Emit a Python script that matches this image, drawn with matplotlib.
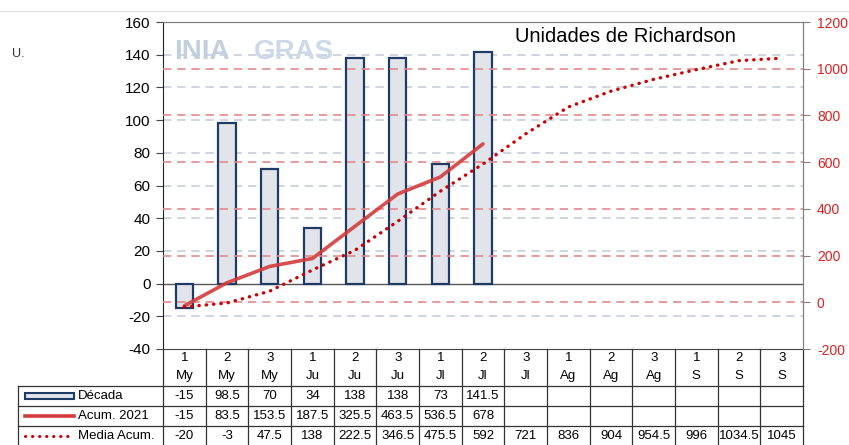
import numpy as np
import matplotlib.pyplot as plt
from matplotlib.lines import Line2D
from matplotlib.patches import Rectangle

plt.rcParams['font.family'] = ['Liberation Sans', 'DejaVu Sans']
plt.rcParams['axes.unicode_minus'] = False

# ----- data -----
dec_num = ['1', '2', '3', '1', '2', '3', '1', '2', '3', '1', '2', '3', '1', '2', '3']
months = ['My', 'My', 'My', 'Ju', 'Ju', 'Ju', 'Jl', 'Jl', 'Jl', 'Ag', 'Ag', 'Ag', 'S', 'S', 'S']
decada = [-15, 98.5, 70, 34, 138, 138, 73, 141.5]
acum_2021 = [-15, 83.5, 153.5, 187.5, 325.5, 463.5, 536.5, 678]
media_acum = [-20, -3, 47.5, 138, 222.5, 346.5, 475.5, 592, 721, 836, 904, 954.5, 996, 1034.5, 1045]
row_labels = ['Década', 'Acum. 2021', 'Media Acum.']

W, H = 849, 445
fig = plt.figure(figsize=(W / 100, H / 100), dpi=100)

def px(x0, y0, x1, y1):
    return [x0 / W, 1 - y1 / H, (x1 - x0) / W, (y1 - y0) / H]

n = len(months)
x = np.arange(n)

ax = fig.add_axes(px(163, 22, 803, 349))
ax2 = ax.twinx()
ax2.set_zorder(ax.get_zorder() + 1)
ax2.patch.set_visible(False)

ax.set_xlim(-0.5, n - 0.5)
ax.set_ylim(-40, 160)
ax2.set_ylim(-200, 1200)
ax.set_yticks(np.arange(-40, 161, 20))
ax2.set_yticks(np.arange(-200, 1201, 200))
ax.set_xticks([])

# grid lines
for v in np.arange(-20, 141, 20):
    if v != 0:
        ax.axhline(v, color='#c5cfdc', ls=(0, (5, 3.5)), lw=1.2, zorder=0)
for v in np.arange(0, 1001, 200):
    ax2.axhline(v, color='#e28a8a', ls=(0, (5, 3.5)), lw=1.2, zorder=0)

ax.axhline(0, color='#555555', lw=1, zorder=1)

# bars
ax.bar(x[:len(decada)], decada, width=0.4, color='#e1e5eb', edgecolor='#1f3b63', lw=1.6, zorder=2)

# lines on right axis
ax2.plot(x[:len(acum_2021)], acum_2021, color='#d43c3c', lw=2.6, alpha=0.9, zorder=3,
         solid_capstyle='round')
ax2.plot(x, media_acum, color='#cc0000', lw=2.4, ls=(0, (0.1, 2.1)),
         dash_capstyle='round', zorder=3)

for s in ['top', 'right']:
    ax.spines[s].set_color('#808080')
ax.spines['left'].set_color('#222222')
ax.spines['bottom'].set_color('#444444')
for s in ax2.spines.values():
    s.set_color('#808080')
ax2.spines['left'].set_visible(False)
ax2.spines['bottom'].set_visible(False)

ax.tick_params(axis='y', labelsize=11, length=5, color='#444444', pad=4)
ax2.tick_params(axis='y', labelsize=10, length=5, color='#808080', labelcolor='#e02020', pad=5)

# title, unit, watermark
fig.text(515 / W, 1 - 36 / H, 'Unidades de Richardson', fontsize=14.5, va='center', ha='left')
fig.text(12 / W, 1 - 54 / H, 'U.', fontsize=9, va='center', ha='left', color='#333333')
fig.text(174 / W, 1 - 52 / H, 'INIA', fontsize=20, fontweight='bold', color='#c2d0de', va='center')
fig.text(254 / W, 1 - 52 / H, 'GRAS', fontsize=20, fontweight='bold', color='#cdd9e6', va='center')
fig.add_artist(Line2D([0, 1], [1 - 11 / H] * 2, color='#e2e2e2', lw=1))

# ----- data table -----
tab = fig.add_axes(px(163, 349, 803, 446))
tab.set_xlim(-0.5, n - 0.5)
tab.set_ylim(97, 0)
tab.axis('off')
lc = '#333333'
rows_y = [37, 57, 77, 97]
cw = 640 / n
lab_x0 = -0.5 - 145 / cw
for i in range(n + 1):
    tab.plot([i - 0.5, i - 0.5], [0, 97], color=lc, lw=0.9, clip_on=False)
for yy in rows_y[:3]:
    tab.plot([lab_x0, n - 0.5], [yy, yy], color=lc, lw=0.9, clip_on=False)
tab.plot([lab_x0, lab_x0], [37, 97], color=lc, lw=0.9, clip_on=False)

for i in range(n):
    tab.text(i, 9, dec_num[i], ha='center', va='center', fontsize=9.5)
    tab.text(i, 27, months[i], ha='center', va='center', fontsize=9.5)
for r, vals in enumerate([decada, acum_2021, media_acum]):
    for i, v in enumerate(vals):
        tab.text(i, rows_y[r] + 10, f'{v:g}', ha='center', va='center', fontsize=9.5)

# row labels with legend keys
kx0 = lab_x0 + 7 / cw
kx1 = lab_x0 + 56 / cw
for r, lab in enumerate(row_labels):
    tab.text(lab_x0 + 60 / cw, rows_y[r] + 10, lab, ha='left', va='center', fontsize=9.5,
             clip_on=False)
tab.add_patch(Rectangle((kx0, 44), kx1 - kx0, 6, facecolor='#dfe4ec', edgecolor='#1f3b63',
                        lw=1.5, clip_on=False))
tab.plot([kx0, kx1], [67, 67], color='#d43c3c', lw=2.6, clip_on=False)
tab.plot([kx0, kx1], [87, 87], color='#cc0000', lw=2.2, ls=(0, (0.1, 2.2)),
         dash_capstyle='round', clip_on=False)

fig.savefig('out.png', dpi=100)
